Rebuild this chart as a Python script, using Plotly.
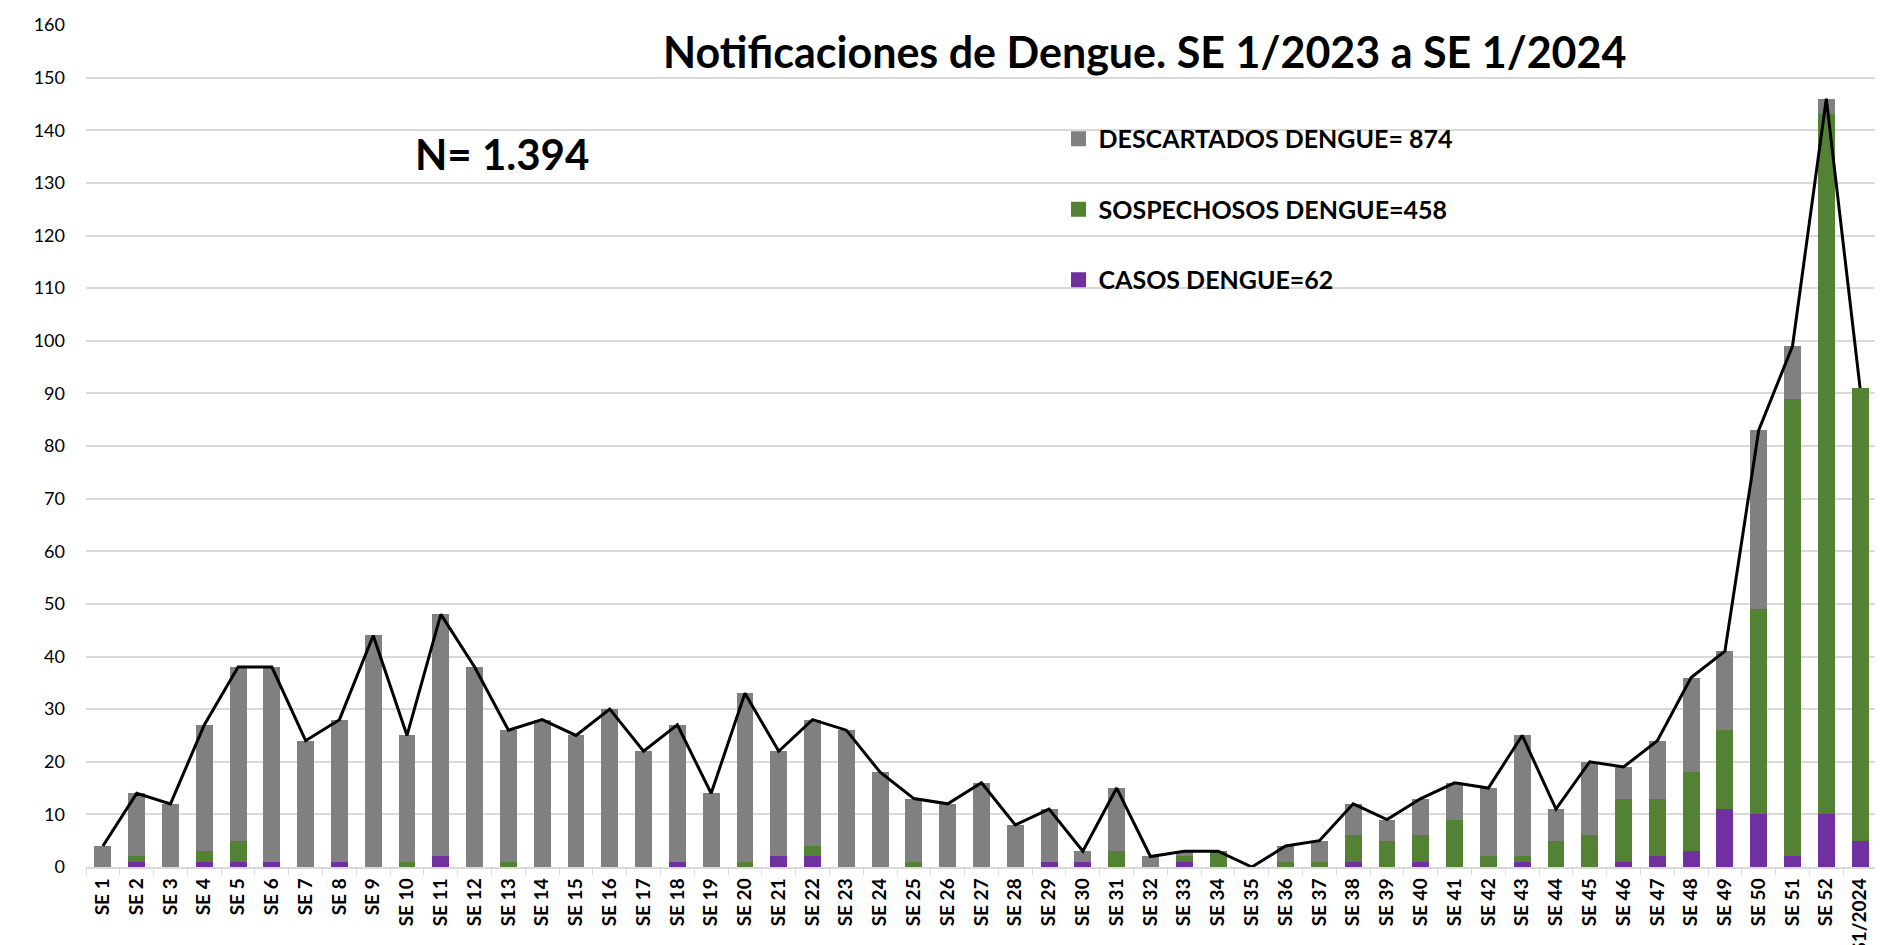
import plotly.graph_objects as go

categorias = [f"SE {i}" for i in range(1, 53)] + ["S1/2024"]

casos = [0, 1, 0, 1, 1, 1, 0, 1, 0, 0, 2, 0, 0, 0, 0, 0, 0, 1, 0, 0, 2, 2, 0, 0, 0, 0,
         0, 0, 1, 1, 0, 0, 1, 0, 0, 0, 0, 1, 0, 1, 0, 0, 1, 0, 0, 1, 2, 3, 11, 10, 2, 10, 5]
sospechosos = [0, 1, 0, 2, 4, 0, 0, 0, 0, 1, 0, 0, 1, 0, 0, 0, 0, 0, 0, 1, 0, 2, 0, 0, 1, 0,
               0, 0, 0, 0, 3, 0, 1, 3, 0, 1, 1, 5, 5, 5, 9, 2, 1, 5, 6, 12, 11, 15, 15, 39, 87, 133, 86]
descartados = [4, 12, 12, 24, 33, 37, 24, 27, 44, 24, 46, 38, 25, 28, 25, 30, 22, 26, 14, 32, 20, 24, 26, 18, 12, 12,
               16, 8, 10, 2, 12, 2, 1, 0, 0, 3, 4, 6, 4, 7, 7, 13, 23, 6, 14, 6, 11, 18, 15, 34, 10, 3, 0]

total = [a + b + c for a, b, c in zip(casos, sospechosos, descartados)]

nombres = ["CASOS DENGUE=62", "SOSPECHOSOS DENGUE=458", "DESCARTADOS DENGUE= 874"]
colores = ["#7030A0", "#548235", "#808080"]

FONT = "Lato"

fig = go.Figure()
for vals, name, col in zip([casos, sospechosos, descartados], nombres, colores):
    fig.add_trace(go.Bar(x=categorias, y=vals, name=name, marker_color=col,
                         marker_line_width=0, showlegend=False))

fig.add_trace(go.Scatter(x=categorias, y=total, mode="lines",
                         line=dict(color="black", width=3), showlegend=False))

# legend entries (top to bottom: descartados, sospechosos, casos)
for name, col in zip(nombres[::-1], colores[::-1]):
    fig.add_trace(go.Scatter(x=[None], y=[None], mode="markers", name=name,
                             marker=dict(symbol="square", size=15, color=col),
                             legendgroup=name, showlegend=True))

fig.update_layout(
    barmode="stack",
    bargap=0.5,
    width=1883, height=945,
    margin=dict(l=78, r=14, t=17, b=86),
    paper_bgcolor="white", plot_bgcolor="white",
    font=dict(family=FONT, color="black"),
    legend=dict(x=0.543, y=0.892, xanchor="left", yanchor="top",
                traceorder="grouped", tracegroupgap=35,
                font=dict(family=FONT, size=25, color="black", weight="bold"),
                bgcolor="rgba(0,0,0,0)", itemwidth=30),
    annotations=[
        dict(text="<b>Notificaciones de Dengue. SE 1/2023 a SE 1/2024</b>",
             xref="paper", yref="paper", x=0.591, y=0.969,
             xanchor="center", yanchor="middle", showarrow=False,
             font=dict(family=FONT, size=43, color="black")),
        dict(text="<b>N= 1.394</b>",
             xref="paper", yref="paper", x=0.232, y=0.847,
             xanchor="center", yanchor="middle", showarrow=False,
             font=dict(family=FONT, size=42, color="black")),
    ],
)

fig.update_yaxes(range=[0, 160], dtick=10, showgrid=True, gridcolor="#D9D9D9",
                 gridwidth=1.5, zeroline=False, showline=False, automargin=False,
                 tickfont=dict(family=FONT, size=18, color="black"), ticks="", ticklabelstandoff=20)
fig.update_xaxes(showline=True, linecolor="#D9D9D9", linewidth=1.5, automargin=False,
                 ticks="outside", tickson="boundaries", ticklen=6, tickcolor="#D9D9D9",
                 tickangle=-90, tickfont=dict(family=FONT, size=19, color="black", weight="bold"),
                 ticklabelstandoff=2, showgrid=False, range=[-0.5, 52.5])

fig.write_html("out.html")
